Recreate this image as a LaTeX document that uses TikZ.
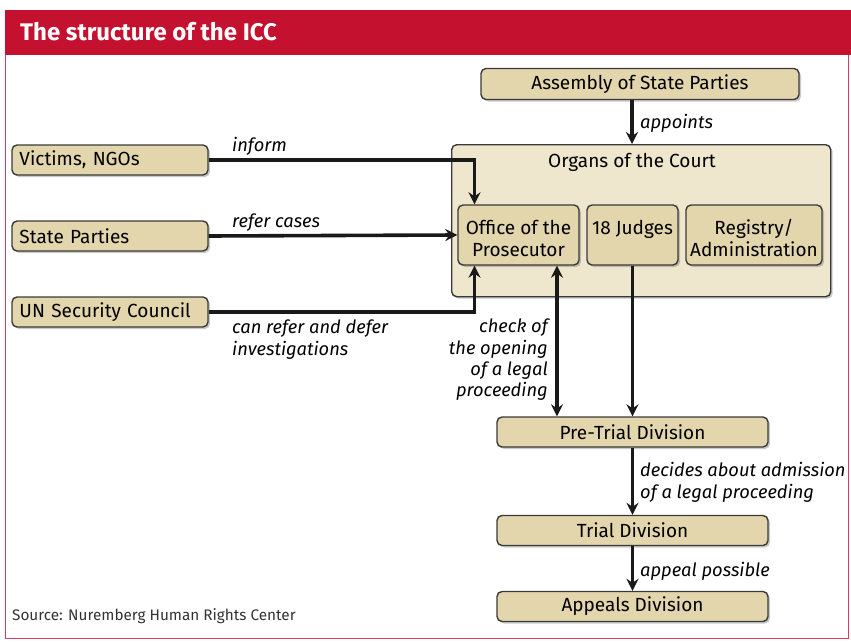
\documentclass[tikz,border=0pt]{standalone}
\usepackage{fontspec}
\setmainfont{Fira Sans}
\usetikzlibrary{arrows.meta,shadows,positioning}
\definecolor{iccred}{HTML}{C3112F}
\definecolor{boxfill}{HTML}{E3D6AC}
\definecolor{organfill}{HTML}{EFE7CD}
\definecolor{edgegray}{HTML}{3A3A3A}
\tikzset{
  box/.style={draw=edgegray, line width=1.4pt, rounded corners=5pt, fill=boxfill,
    drop shadow={shadow xshift=2pt, shadow yshift=-2pt, opacity=0.35, fill=black!60},
    inner sep=0pt, font=\fontsize{19}{22}\selectfont, align=center},
  boxtext/.style={font=\fontsize{19}{22}\selectfont, inner sep=0pt, anchor=base},
  tip/.tip={Stealth[length=12pt,width=12pt,inset=4pt]},
  conn/.style={line width=3.6pt, draw=black!90, -tip},
  dconn/.style={line width=3.6pt, draw=black!90, tip-tip},
  lbl/.style={font=\fontsize{18.3}{22}\selectfont\itshape, inner sep=0pt, anchor=base west},
  lblr/.style={font=\fontsize{18.3}{22}\selectfont\itshape, inner sep=0pt, anchor=base east}
}
\begin{document}
\begin{tikzpicture}[x=1pt,y=-1pt]
\useasboundingbox (0,0) rectangle (851,642);
% frame
\draw[iccred!80, line width=1.2pt] (5.5,55) -- (5.5,638.5) -- (848.5,638.5) -- (848.5,55);
\fill[iccred] (5,10) rectangle (851,55);
\node[anchor=base west, text=white, font=\fontsize{24}{28}\selectfont\bfseries, inner sep=0pt] (title) at (20,41) {The structure of the ICC};

% organs container
\node[box, fill=organfill, minimum width=379pt, minimum height=152pt, anchor=north west] (organs) at (451,144) {};
\node[boxtext] (organstitle) at (632,167) {Organs of the Court};

% boxes
\node[box, minimum width=318pt, minimum height=31pt] (asp) at (640,84) {Assembly of State Parties};
\node[box, minimum width=121pt, minimum height=60pt] (otp) at (518.5,235) {};
\node[boxtext] (otp1) at (518.5,234) {Office of the};
\node[boxtext] (otp2) at (518.5,256) {Prosecutor};
\node[box, minimum width=91pt, minimum height=60pt] (judges) at (632.5,235) {};
\node[boxtext] (judges1) at (632.5,234) {18 Judges};
\node[box, minimum width=136pt, minimum height=60pt] (reg) at (754,235) {};
\node[boxtext] (reg1) at (754,234) {Registry/};
\node[boxtext] (reg2) at (754,256) {Administration};

\node[box, minimum width=196pt, minimum height=30pt, text width=181pt, align=left] (vic) at (110,160) {Victims, NGOs};
\node[box, minimum width=196pt, minimum height=30pt, text width=181pt, align=left] (sp) at (110,236) {State Parties};
\node[box, minimum width=196pt, minimum height=30pt, text width=181pt, align=left] (unsc) at (110,312) {UN Security Council};

\node[box, minimum width=271pt, minimum height=30pt] (ptd) at (632.5,432) {Pre-Trial Division};
\node[box, minimum width=271pt, minimum height=30pt] (td) at (632.5,530.5) {Trial Division};
\node[box, minimum width=271pt, minimum height=30pt] (ad) at (632.5,606.5) {Appeals Division};

% connectors
\draw[conn] (asp.south -| organstitle) -- (organs.north -| organstitle);
\node[lbl] (lappoints) at (640,128) {appoints};

\draw[conn] (vic.east) -| ([xshift=-44pt]otp.north);
\node[lbl] (linform) at (232,151) {inform};

\draw[conn] (sp.east) -- (otp.west);
\node[lbl] (lrefer) at (232,227) {refer cases};

\draw[conn] (unsc.east) -| ([xshift=-44pt]otp.south);
\node[lbl] (lunsc1) at (232,333) {can refer and defer};
\node[lbl] (lunsc2) at (232,355) {investigations};

\draw[dconn] ([xshift=38.5pt]otp.south) -- ([xshift=-75.5pt]ptd.north);
\node[lblr] (lcheck1) at (548,332) {check of};
\node[lblr] (lcheck2) at (548,354) {the opening};
\node[lblr] (lcheck3) at (548,375) {of a legal};
\node[lblr] (lcheck4) at (548,396) {proceeding};

\draw[conn] (judges.south) -- (ptd.north);

\draw[conn] (ptd.south) -- (td.north);
\node[lbl] (ldecides) at (640,476) {decides about admission};
\node[lbl] (ldecides2) at (640,498) {of a legal proceeding};

\draw[conn] (td.south) -- (ad.north);
\node[lbl] (lappeal) at (640,576) {appeal possible};

\node[anchor=base west, font=\fontsize{15.3}{18}\selectfont, text=black!80, inner sep=0pt] (source) at (12,620) {Source: Nuremberg Human Rights Center};
\end{tikzpicture}
\end{document}
